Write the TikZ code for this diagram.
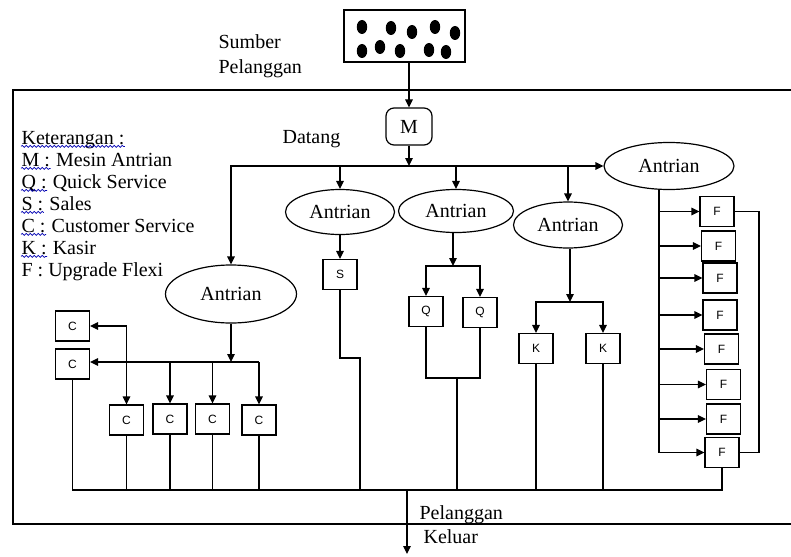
\documentclass[tikz,border=0pt]{standalone}
\usepackage{fontspec}
\setmainfont{Liberation Serif}
\newfontfamily\hurufkotak{Liberation Sans}
\usetikzlibrary{shapes.geometric,arrows.meta,decorations.pathmorphing}

\begin{document}
\begin{tikzpicture}[x=0.5pt,y=-0.5pt,line width=0.6pt,
 panah/.style={-{Triangle[length=4pt,width=3.8pt]}},
 kotak/.style={draw,minimum width=17pt,minimum height=15pt,inner sep=0pt,font=\hurufkotak\fontsize{6}{7}\selectfont},
 antrian/.style={draw,ellipse,inner sep=0pt,font=\fontsize{10}{12}\selectfont},
 teks/.style={inner sep=0pt,font=\fontsize{10}{12}\selectfont},
 salah/.style={draw=blue!70!black,line width=0.35pt,decorate,decoration={snake,amplitude=0.5pt,segment length=2pt}}]
 \useasboundingbox (0,0) rectangle (791,556);
 \draw (791,90) -- (13,90) -- (13,524) -- (791,524);

 \node[draw,minimum width=60.5pt,minimum height=26pt,inner sep=0pt] (sumber) at (404.5,36) {};
 \foreach \x/\y in {362/27,391/28,412/32,435/27,455/33,362/51,380/47,400/51,429/50,446/52}
 \fill (\x,\y) ellipse [x radius=2.6pt,y radius=3.5pt];
 \node[teks,anchor=base west] (sumberA) at (218,49) {Sumber};
 \node[teks,anchor=base west] (sumberB) at (218,74) {Pelanggan};

 \node[draw,rounded corners=4pt,minimum width=23pt,minimum height=18.5pt,inner sep=0pt,font=\fontsize{10}{12}\selectfont] (mesin) at (409,126.5) {M};
 \draw[panah] (mesin.north |- sumber.south) -- (mesin.north);
 \node[teks,anchor=base west] (datang) at (282,143) {Datang};
 \coordinate (bagi) at (409,166);
 \draw[panah] (mesin.south) -- (bagi);

 \node[antrian,minimum width=65.5pt,minimum height=29pt] (antC) at (231,294) {Antrian};
 \node[antrian,minimum width=54.5pt,minimum height=22.5pt] (antS) at (340,212) {Antrian};
 \node[antrian,minimum width=57.5pt,minimum height=21.5pt] (antQ) at (456,211) {Antrian};
 \node[antrian,minimum width=54.5pt,minimum height=23pt] (antK) at (568,225) {Antrian};
 \node[antrian,minimum width=65pt,minimum height=23.5pt] (antF) at (669,166) {Antrian};
 \draw[panah] (bagi) -| (antC.north);
 \draw[panah] (bagi) -- (antF.west);
 \foreach \n in {antS,antQ,antK}
 \draw[panah] (\n.north |- bagi) -- (\n.north);

 \node[kotak] (ca) at (72.5,326) {C};
 \node[kotak] (cb) at (72.5,364) {C};
 \node[kotak] (c1) at (126.5,420) {C};
 \node[kotak] (c2) at (170,419) {C};
 \node[kotak] (c3) at (212.5,419) {C};
 \node[kotak] (c4) at (259,420) {C};
 \coordinate (busC) at (231,362);
 \draw[panah] (antC.south) -- (busC);
 \draw[panah] (c4.north |- busC) -- (cb.east |- busC);
 \draw[panah] (c1.north |- ca.east) -- (ca.east);
 \draw[panah] (c1.north |- ca.east) -- (c1.north);
 \foreach \n in {c2,c3,c4}
 \draw[panah] (\n.north |- busC) -- (\n.north);

 \node[kotak] (s) at (340,274.5) {S};
 \draw[panah] (antS.south) -- (s.north);

 \node[kotak] (q1) at (426,311.5) {Q};
 \node[kotak] (q2) at (480,312.5) {Q};
 \coordinate (bagiQ) at (453,266);
 \draw[panah] (antQ.south -| bagiQ) -- (bagiQ);
 \draw[panah] (bagiQ) -| (q1.north);
 \draw[panah] (bagiQ) -| (q2.north);

 \node[kotak] (k1) at (536,348.5) {K};
 \node[kotak] (k2) at (603,348.5) {K};
 \coordinate (bagiK) at (570,302);
 \draw[panah] (antK.south -| bagiK) -- (bagiK);
 \draw[panah] (bagiK) -| (k1.north);
 \draw[panah] (bagiK) -| (k2.north);

 \foreach \n/\x/\y in {1/717/211.5,2/718.5/246,3/720/278,4/720/315,5/721.5/349,6/723.5/384.5,7/723.5/419,8/722/452.5}
 \node[kotak] (f\n) at (\x,\y) {F};
 \coordinate (batangF) at (659,0);
 \draw (antF.south -| batangF) -- (f8.west -| batangF);
 \foreach \n in {1,...,8}
 \draw[panah] (f\n.west -| batangF) -- (f\n.west);
 \coordinate (relF) at (759,0);
 \draw (f1.east) -- (f1.east -| relF) -- (f8.east -| relF) -- (f8.east);

 \coordinate (keluarAtas) at (407,490);
 \coordinate (keluarBawah) at (407,554);
 \draw (cb.south) |- (f8.south |- keluarAtas) -- (f8.south);
 \foreach \n in {c1,c2,c3,c4,k1,k2}
 \draw (\n.south) -- (\n.south |- keluarAtas);
 \coordinate (tekukS) at (360,358);
 \draw (s.south) |- (tekukS) -- (tekukS |- keluarAtas);
 \coordinate (gabungQ) at (457,378);
 \draw (q1.south) |- (gabungQ) -| (q2.south);
 \draw (gabungQ) -- (gabungQ |- keluarAtas);
 \draw[panah] (keluarAtas) -- (keluarBawah);
 \node[teks,anchor=base west] (pelangganA) at (419,519) {Pelanggan};
 \node[teks,anchor=base west] (pelangganB) at (423,543) {Keluar};

 \node[teks,anchor=base west] (ket) at (21,144) {Keterangan :};
 \draw[salah] ([yshift=-1.2pt]ket.base west) -- ([yshift=-1.2pt]ket.base east);
 \foreach \k/\isi/\y in {M/Mesin Antrian/166,Q/Quick Service/188,S/Sales/210,C/Customer Service/232,K/Kasir/254}{
 \node[teks,anchor=base west] (kunci\k) at (21,\y) {\k\ :};
 \node[teks,anchor=base west] (arti\k) at (kunci\k.base east) {\ \isi};
 \draw[salah] ([yshift=-1.2pt]kunci\k.base west) -- ([yshift=-1.2pt]kunci\k.base east);
 }
 \node[teks,anchor=base west] (kunciF) at (21,276) {F : Upgrade Flexi};
\end{tikzpicture}
\end{document}
